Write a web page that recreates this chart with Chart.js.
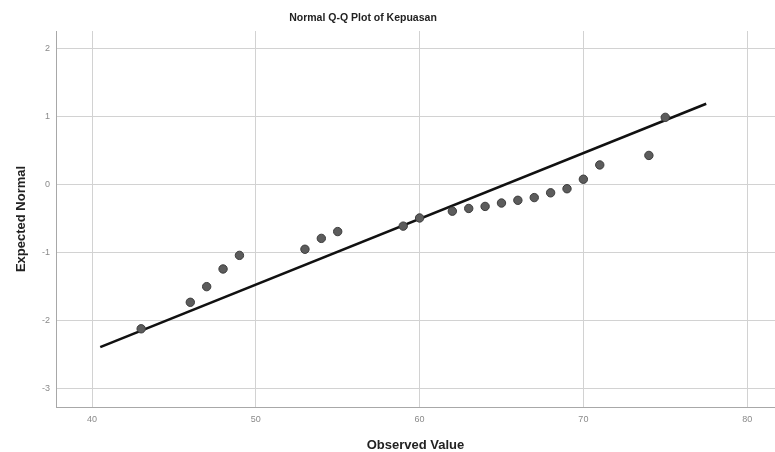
<!doctype html>
<html lang="en">
<head>
    <meta charset="utf-8">
    <title>Normal Q-Q Plot of Kepuasan</title>
    <script src="https://cdn.jsdelivr.net/npm/chart.js@4/dist/chart.umd.min.js"></script>
    <style>
        html, body { margin: 0; padding: 0; background: #fff; overflow: hidden; }
        canvas { display: block; }
    </style>
</head>
<body>
    <canvas id="qq" width="775" height="452"></canvas>

    <script type="text/javascript">
        var observed = [43, 46, 47, 48, 49, 53, 54, 55, 59, 60, 62, 63, 64, 65, 66, 67, 68, 69, 70, 71, 74, 75];
        var expected = [-2.12, -1.73, -1.50, -1.24, -1.04, -0.95, -0.79, -0.69, -0.61, -0.49, -0.39, -0.35,
            -0.32, -0.27, -0.23, -0.19, -0.12, -0.06, 0.08, 0.29, 0.43, 0.99];

        // reference line end points
        var lineX = [40.5, 77.5];
        var lineY = [-2.39, 1.19];

        var xTicks = [40, 50, 60, 70, 80];
        var yTicks = [-3, -2, -1, 0, 1, 2];

        var points = observed.map((v, i) => ({ x: v, y: expected[i] }));
        var refLine = lineX.map((v, i) => ({ x: v, y: lineY[i] }));

        // SPSS puts the title a bit left of the canvas centre
        const shiftTitle = {
            id: 'shiftTitle',
            afterLayout(chart) {
                chart.titleBlock.left = 0;
                chart.titleBlock.right = 726;
            }
        };

        var ctx = document.getElementById('qq');
        var chart = new Chart(ctx, {
            type: 'scatter',
            data: {
                datasets: [{
                    type: 'line',
                    data: refLine,
                    borderColor: '#111',
                    borderWidth: 2.6,
                    pointRadius: 0,
                    fill: false,
                    order: 2
                }, {
                    data: points,
                    pointRadius: 4.2,
                    backgroundColor: '#5c5c5c',
                    borderColor: '#3c3c3c',
                    borderWidth: 1,
                    order: 1
                }]
            },
            plugins: [shiftTitle],
            options: {
                responsive: false,
                animation: false,
                layout: { padding: 0, autoPadding: false },
                plugins: {
                    legend: { display: false },
                    tooltip: { enabled: false },
                    title: {
                        display: true,
                        text: 'Normal Q-Q Plot of Kepuasan',
                        color: '#222',
                        font: { family: 'Liberation Sans', size: 10.5, weight: 'bold' },
                        padding: { top: 12, bottom: 6.4 }
                    }
                },
                scales: {
                    x: {
                        type: 'linear',
                        min: 37.8,
                        max: 81.7,
                        afterBuildTicks: (s) => { s.ticks = xTicks.map(v => ({ value: v })); },
                        afterFit: (s) => { s.height = 45; s.paddingLeft = 0; s.paddingRight = 0; },
                        border: { color: '#a8a8a8', width: 1 },
                        grid: { color: '#d2d2d2', lineWidth: 1, drawTicks: false },
                        ticks: {
                            color: '#8a8a8a',
                            padding: 7,
                            font: { family: 'Liberation Sans', size: 9 }
                        },
                        title: {
                            display: true,
                            text: 'Observed Value',
                            color: '#222',
                            font: { family: 'Liberation Sans', size: 13, weight: 'bold', lineHeight: 1 },
                            padding: { top: 0, bottom: 0 }
                        }
                    },
                    y: {
                        type: 'linear',
                        min: -3.27,
                        max: 2.26,
                        afterBuildTicks: (s) => { s.ticks = yTicks.map(v => ({ value: v })); },
                        afterFit: (s) => { s.width = 56; },
                        border: { color: '#a8a8a8', width: 1 },
                        grid: { color: '#d2d2d2', lineWidth: 1, drawTicks: false },
                        ticks: {
                            color: '#8a8a8a',
                            padding: 6,
                            font: { family: 'Liberation Sans', size: 9 }
                        },
                        title: {
                            display: true,
                            text: 'Expected Normal',
                            color: '#222',
                            font: { family: 'Liberation Sans', size: 13, weight: 'bold' },
                            padding: { top: 14, bottom: 0 }
                        }
                    }
                }
            }
        });
    </script>
</body>
</html>
